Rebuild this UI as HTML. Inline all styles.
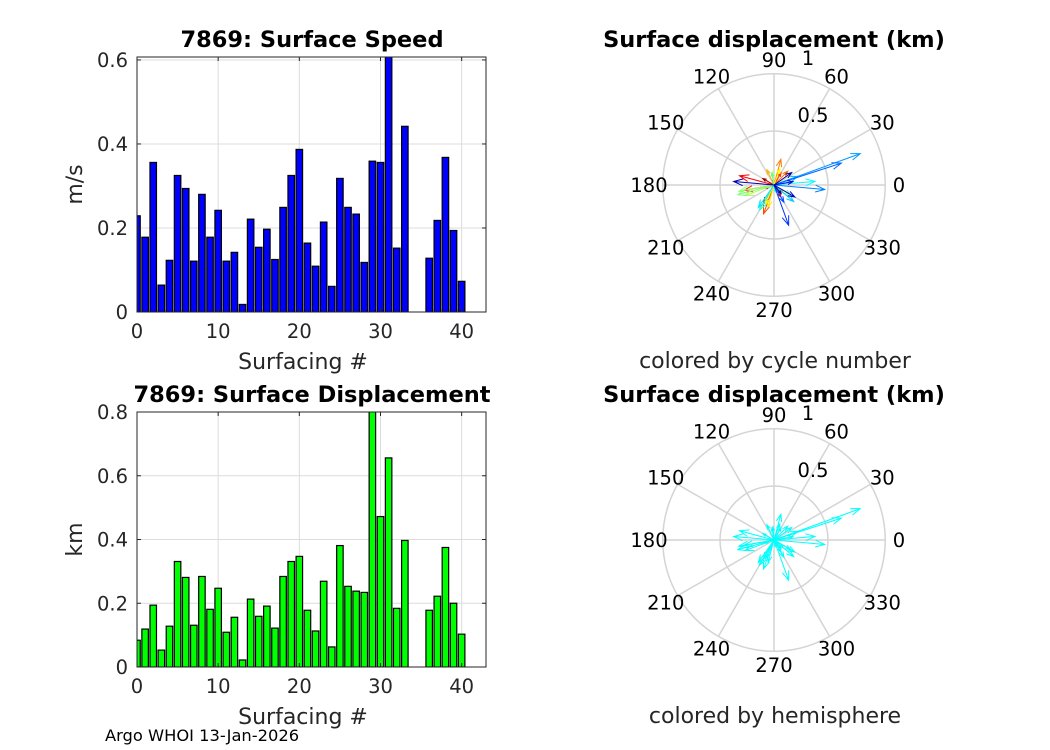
<!DOCTYPE html>
<html><head><meta charset="utf-8"><style>
body{margin:0;background:#fff;}
svg{display:block;font-family:"DejaVu Sans","Liberation Sans",sans-serif;}
</style></head><body>
<svg id="fig" width="1050" height="750" viewBox="0 0 1050 750" xmlns="http://www.w3.org/2000/svg">
<rect width="1050" height="750" fill="#fff"/>
<text x="105" y="741" font-size="16.3" fill="#000">Argo WHOI 13-Jan-2026</text>
</svg>
<script>
const cycles=[0,1,2,3,4,5,6,7,8,9,10,11,12,13,14,15,16,17,18,19,20,21,22,23,24,25,26,27,28,29,30,31,32,33,34,35,36,37,38,39,40];
const speed=[.229,.178,.356,.064,.123,.325,.294,.121,.280,.178,.242,.121,.142,.018,.221,.154,.197,.125,.249,.325,.387,.164,.109,.214,.061,.318,.249,.233,.118,.359,.356,.65,.152,.442,null,null,.128,.218,.368,.194,.073];
const disp=[.084,.119,.194,.053,.128,.331,.281,.131,.284,.181,.247,.109,.156,.022,.213,.159,.191,.122,.284,.331,.347,.178,.113,.269,.063,.381,.253,.238,.234,.85,.472,.656,.184,.397,null,null,.178,.222,.375,.2,.103];
const dirDeg=[200,150,240,100,300,165,190,60,250,45,75,320,115,30,255,70,245,95,200,190,195,330,100,240,280,5,235,320,20,20,355,18,300,290,null,null,10,330,175,35,310];
const xTicks=[0,10,20,30,40];
const speedTicks=[0,0.2,0.4,0.6];
const dispTicks=[0,0.2,0.4,0.6,0.8];
const angleLabels=[0,30,60,90,120,150,180,210,240,270,300,330];

const NS="http://www.w3.org/2000/svg";
const svg=document.getElementById('fig');
function mk(tag,attrs,parent){const e=document.createElementNS(NS,tag);for(const k in attrs)e.setAttribute(k,attrs[k]);(parent||svg).appendChild(e);return e;}
function txt(s,attrs){const e=mk('text',attrs);e.textContent=s;return e;}

function barChart(o){
  const L=137,R=486,T=o.top,B=o.top+255;
  const xs=v=>L+(v-0)/(43-0)*(R-L);
  const ys=v=>B-(v/o.ymax)*(B-T);
  const g=mk('g',{});
  
  
  const cp=mk('clipPath',{id:o.name+'-clip'},g);mk('rect',{x:L,y:T,width:R-L,height:B-T},cp);
  xTicks.forEach(t=>{const l=mk('line',{x1:xs(t),x2:xs(t),y1:T,y2:B,stroke:'#dcdcdc','stroke-width':1},g);
    });
  o.ticks.forEach(t=>{const l=mk('line',{x1:L,x2:R,y1:ys(t),y2:ys(t),stroke:'#dcdcdc','stroke-width':1},g);
    });
  const bg=mk('g',{'clip-path':`url(#${o.name}-clip)`},g);
  o.vals.forEach((v,i)=>{if(v==null)return;const c=cycles[i];
    const r=mk('rect',{x:xs(c-0.4),y:ys(v),width:xs(c+0.4)-xs(c-0.4),height:B-ys(v),fill:o.color,stroke:'#000','stroke-width':1.2},bg);
    });
  mk('rect',{x:L,y:T,width:R-L,height:B-T,fill:'none',stroke:'#262626','stroke-width':1},g);
  xTicks.forEach(t=>{mk('line',{x1:xs(t),x2:xs(t),y1:B,y2:B-4,stroke:'#262626'},g);mk('line',{x1:xs(t),x2:xs(t),y1:T,y2:T+4,stroke:'#262626'},g);
    const e=txt(String(t),{x:xs(t),y:B+26,'font-size':19.5,'text-anchor':'middle',fill:'#262626'});
    });
  o.ticks.forEach(t=>{mk('line',{x1:L,x2:L+4,y1:ys(t),y2:ys(t),stroke:'#262626'},g);mk('line',{x1:R,x2:R-4,y1:ys(t),y2:ys(t),stroke:'#262626'},g);
    const e=txt(String(t),{x:L-9,y:ys(t)+7,'font-size':19.5,'text-anchor':'end',fill:'#262626'});
    });
  const xl=txt('Surfacing #',{x:303,y:B+57,'font-size':22,'text-anchor':'middle',fill:'#262626'});
  
  const yl=txt(o.ylabel,{x:0,y:0,'font-size':22,'text-anchor':'middle',fill:'#262626',transform:`translate(${o.ylx},${(T+B)/2}) rotate(-90)`});
  
  const ti=txt(o.title,{x:o.tx,y:T-10,'font-size':22.5,'font-weight':'bold','text-anchor':'middle',fill:'#000'});
  
}
barChart({name:'speed-chart',top:57,ymax:0.607,vals:speed,color:'#0000ff',ticks:speedTicks,ylabel:'m/s',ylx:82,title:'7869: Surface Speed',tx:312});
barChart({name:'displacement-chart',top:412,ymax:0.8,vals:disp,color:'#00ff00',ticks:dispTicks,ylabel:'km',ylx:82,title:'7869: Surface Displacement',tx:312});

function jet(t){const r=Math.min(1,Math.max(0,1.5-Math.abs(4*t-3))),g=Math.min(1,Math.max(0,1.5-Math.abs(4*t-2))),b=Math.min(1,Math.max(0,1.5-Math.abs(4*t-1)));
  return `rgb(${Math.round(r*255)},${Math.round(g*255)},${Math.round(b*255)})`;}

function polar(o){
  const cx=774,cy=o.cy,S=108;
  const g=mk('g',{});
  
  
  angleLabels.forEach(a=>{const r=a*Math.PI/180;
    mk('line',{x1:cx,y1:cy,x2:cx+S*1.03*Math.cos(r),y2:cy-S*1.03*Math.sin(r),stroke:'#d4d4d4','stroke-width':1.5},g);
    const e=txt(String(a),{x:cx+125*Math.cos(r),y:cy-125*Math.sin(r)+7,'font-size':19.5,'text-anchor':'middle',fill:'#000'});
    });
  mk('circle',{cx:cx,cy:cy,r:S*0.5,fill:'none',stroke:'#d4d4d4','stroke-width':1.5},g);
  mk('circle',{cx:cx,cy:cy,r:S*1.03,fill:'none',stroke:'#d4d4d4','stroke-width':1.5},g);
  let e=txt('0.5',{x:813,y:cy-63,'font-size':19.5,'text-anchor':'middle',fill:'#000'});
  
  e=txt('1',{x:808,y:cy-120,'font-size':19.5,'text-anchor':'middle',fill:'#000'});
  
  disp.forEach((m,i)=>{if(m==null)return;const a=dirDeg[i]*Math.PI/180;
    const x2=cx+S*m*Math.cos(a),y2=cy-S*m*Math.sin(a);
    const col=o.single||jet(1-i/40);
    const len=S*m,h=Math.min(10,len*0.3);
    const a1=a+Math.PI-0.35,a2=a+Math.PI+0.35;
    const p=mk('path',{d:`M${cx},${cy}L${x2},${y2}M${x2+h*Math.cos(a1)},${y2-h*Math.sin(a1)}L${x2},${y2}L${x2+h*Math.cos(a2)},${y2-h*Math.sin(a2)}`,fill:'none',stroke:col,'stroke-width':1},g);
    });
  e=txt('Surface displacement (km)',{x:cx,y:cy-138,'font-size':22.5,'font-weight':'bold','text-anchor':'middle',fill:'#000'});
  
  e=txt(o.caption,{x:cx+1,y:cy+183,'font-size':22,'text-anchor':'middle',fill:'#262626'});
  
}
polar({name:'polar-cycle',cy:185,caption:'colored by cycle number'});
polar({name:'polar-hemisphere',cy:540,caption:'colored by hemisphere',single:'#00ffff'});
</script>
</body></html>
